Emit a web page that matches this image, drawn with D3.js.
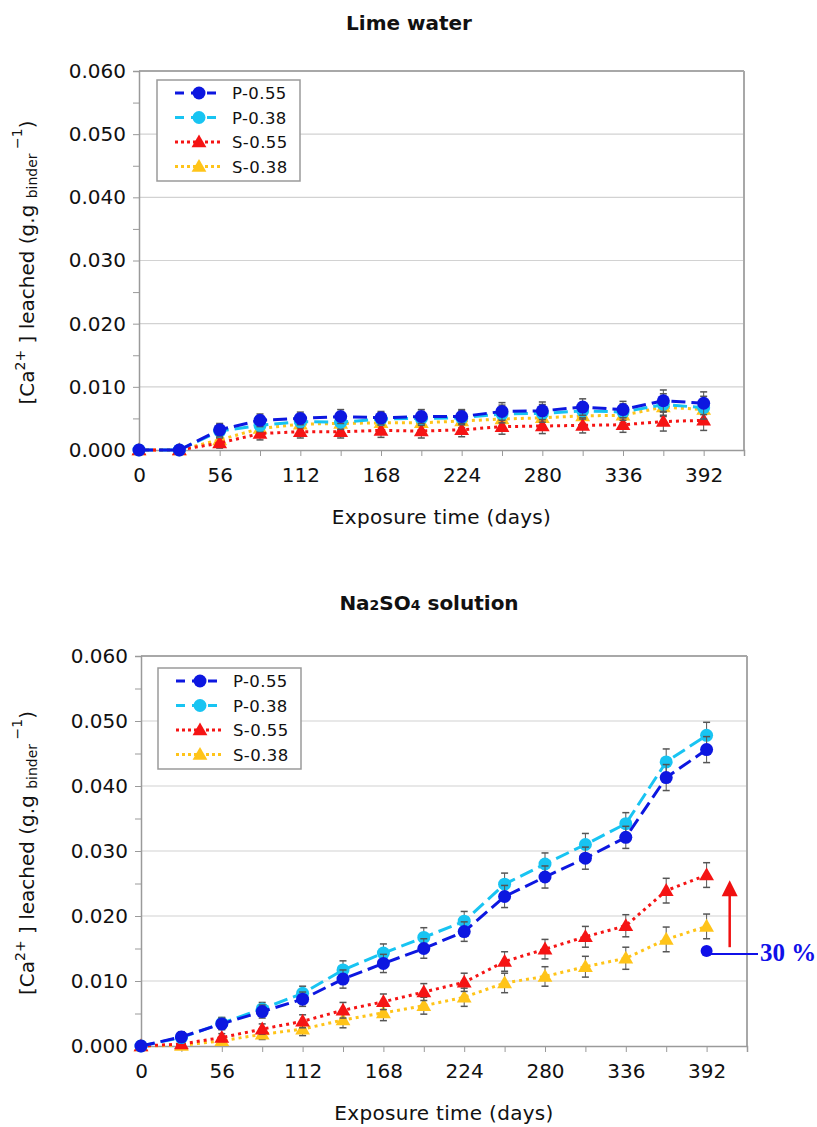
<!DOCTYPE html>
<html>
<head>
<meta charset="utf-8">
<script src="https://cdn.jsdelivr.net/npm/d3@7"></script>
<style>
body { margin: 0; background: #fff; }
text { font-family: "DejaVu Sans", sans-serif; fill: #111; }
</style>
</head>
<body>
<div id="chart"></div>
<script>
// exposure days (one point every 4 weeks)
var days = [0, 28, 56, 84, 112, 140, 168, 196, 224, 252, 280, 308, 336, 364, 392];
var xTickLabels = [0, 56, 112, 168, 224, 280, 336, 392];
var yTicks = [0, 0.01, 0.02, 0.03, 0.04, 0.05, 0.06];
var seriesNames = ["P-0.55", "P-0.38", "S-0.55", "S-0.38"];

// lime water
var limeP55 = [0, 0, 0.0032, 0.0047, 0.0050, 0.0053, 0.0051, 0.0053, 0.0053, 0.0061, 0.0062, 0.0068, 0.0064, 0.0078, 0.0074];
var limeP38 = [0, 0, 0.0030, 0.0039, 0.0045, 0.0044, 0.0049, 0.0050, 0.0051, 0.0057, 0.0058, 0.0062, 0.0060, 0.0072, 0.0067];
var limeS55 = [0, 0, 0.0011, 0.0026, 0.0029, 0.0029, 0.0031, 0.0030, 0.0032, 0.0037, 0.0038, 0.0039, 0.0040, 0.0045, 0.0047];
var limeS38 = [0, 0, 0.0016, 0.0034, 0.0041, 0.0042, 0.0043, 0.0043, 0.0046, 0.0049, 0.0051, 0.0054, 0.0055, 0.0068, 0.0064];
var limeErrP = [0.0007, 0.0006, 0.0010, 0.0010, 0.0010, 0.0011, 0.0010, 0.0011, 0.0011, 0.0014, 0.0014, 0.0013, 0.0013, 0.0017, 0.0018];
var limeErrS = [0.0004, 0.0004, 0.0008, 0.0010, 0.0010, 0.0010, 0.0011, 0.0011, 0.0011, 0.0012, 0.0012, 0.0012, 0.0012, 0.0015, 0.0016];

// Na2SO4 solution
var naP55 = [0, 0.0014, 0.0034, 0.0053, 0.0072, 0.0103, 0.0127, 0.0150, 0.0176, 0.0230, 0.0260, 0.0289, 0.0321, 0.0413, 0.0456];
var naP38 = [0, 0.0013, 0.0035, 0.0057, 0.0081, 0.0117, 0.0143, 0.0167, 0.0192, 0.0249, 0.0280, 0.0310, 0.0342, 0.0437, 0.0478];
var naS55 = [0, 0.0003, 0.0013, 0.0026, 0.0038, 0.0055, 0.0068, 0.0083, 0.0098, 0.0130, 0.0149, 0.0168, 0.0185, 0.0239, 0.0263];
var naS38 = [0, 0.0001, 0.0008, 0.0018, 0.0026, 0.0040, 0.0051, 0.0062, 0.0075, 0.0097, 0.0107, 0.0122, 0.0135, 0.0164, 0.0184];
var naErrP = [0.0007, 0.0008, 0.0009, 0.0010, 0.0011, 0.0014, 0.0014, 0.0015, 0.0015, 0.0017, 0.0017, 0.0017, 0.0017, 0.0020, 0.0020];
var naErrS = [0.0003, 0.0004, 0.0006, 0.0008, 0.0010, 0.0012, 0.0012, 0.0013, 0.0014, 0.0015, 0.0015, 0.0016, 0.0017, 0.0019, 0.0019];

// annotation on the Na2SO4 panel
var noteDot = {day: 392, value: 0.0146};
var noteArrow = {day: 408, from: 0.0152, to: 0.0255};
var noteText = "30 %";

var styles = {
    "P-0.55": {color: "#0d17e0", dash: "14,6", shape: "circle"},
    "P-0.38": {color: "#18c4f2", dash: "14,6", shape: "circle"},
    "S-0.55": {color: "#f51414", dash: "3,4", shape: "triangle"},
    "S-0.38": {color: "#ffc419", dash: "3,4", shape: "triangle"}
};

var svg = d3.select("#chart")
    .append("svg")
    .attr("width", 817)
    .attr("height", 1127);

function drawPanel(p) {
    var x = d3.scaleLinear().domain([0, 420]).range([p.left, p.right]);
    var y = d3.scaleLinear().domain([0, 0.06]).range([p.bottom, p.top]);
    var g = svg.append("g");

    // title
    var title = g.append("text")
        .attr("x", p.titleX)
        .attr("y", p.titleY)
        .attr("text-anchor", "middle")
        .style("font-size", "20px")
        .style("font-weight", "bold");
    p.title.forEach(function(t) {
        title.append("tspan")
            .style("font-size", t.size ? t.size + "px" : null)
            .text(t.s);
    });

    // gridlines
    g.append("g")
        .selectAll("line")
        .data(yTicks.filter(function(d) { return d > 0; }))
        .enter()
        .append("line")
        .attr("x1", p.left).attr("x2", p.right)
        .attr("y1", function(d) { return y(d); })
        .attr("y2", function(d) { return y(d); })
        .attr("stroke", function(d) { return d >= 0.06 ? "#a8a8a8" : "#d2d2d2"; })
        .attr("stroke-width", function(d) { return d >= 0.06 ? 2 : 1.2; });

    // right frame
    g.append("line")
        .attr("x1", p.right).attr("x2", p.right)
        .attr("y1", p.top).attr("y2", p.bottom)
        .attr("stroke", "#a8a8a8").attr("stroke-width", 2);

    // y axis
    var yAxis = g.append("g")
        .attr("transform", "translate(" + p.left + ",0)")
        .call(d3.axisLeft(y).tickValues(d3.range(0, 0.0601, 0.005)).tickSize(6).tickPadding(7)
            .tickFormat(function(d) {
                var r = Math.round(d * 1000);
                return r % 10 === 0 ? d3.format(".3f")(d) : "";
            }));
    yAxis.select(".domain").attr("stroke", "#9a9a9a").attr("stroke-width", 1.5);
    yAxis.selectAll(".tick line").attr("stroke", "#9a9a9a");
    yAxis.selectAll(".tick text").style("font-size", "20px").attr("fill", "#111");

    // x axis
    var xAxis = g.append("g")
        .attr("transform", "translate(0," + p.bottom + ")")
        .call(d3.axisBottom(x).tickValues(d3.range(0, 421, 28)).tickSize(6).tickPadding(12)
            .tickFormat(function(d) { return xTickLabels.indexOf(d) >= 0 ? d : ""; }));
    xAxis.select(".domain").attr("stroke", "#9a9a9a").attr("stroke-width", 1.5);
    xAxis.selectAll(".tick line").attr("stroke", "#9a9a9a");
    xAxis.selectAll(".tick text").style("font-size", "20px").attr("fill", "#111");

    // axis labels
    g.append("text")
        .attr("x", (p.left + p.right) / 2)
        .attr("y", p.bottom + 74)
        .attr("text-anchor", "middle")
        .style("font-size", "20px")
        .style("letter-spacing", "0.3px")
        .text("Exposure time (days)");

    var yl = g.append("text")
        .attr("transform", "translate(34," + ((p.top + p.bottom) / 2 + 2) + ")rotate(-90)")
        .attr("text-anchor", "middle")
        .style("font-size", "20px");
    yl.append("tspan").text("[Ca");
    yl.append("tspan").attr("dy", -9).style("font-size", "14px").text("2+");
    yl.append("tspan").attr("dy", 9).text(" ] leached (g.g ");
    yl.append("tspan").attr("dy", 3).style("font-size", "14px").text("binder");
    yl.append("tspan").attr("dy", -15).style("font-size", "14px").text(" \u22121");
    yl.append("tspan").attr("dy", 12).text(")");

    // series
    var line = d3.line()
        .x(function(d) { return x(d.day); })
        .y(function(d) { return y(d.value); });
    var tri = d3.symbol().type(d3.symbolTriangle).size(95);

    var order = ["S-0.38", "S-0.55", "P-0.38", "P-0.55"];
    order.forEach(function(name) {
        var st = styles[name];
        var pts = days.map(function(dd, i) {
            return {day: dd, value: p.series[name][i], err: p.errors[name][i]};
        });
        var sg = g.append("g");
        sg.append("path")
            .datum(pts)
            .attr("d", line)
            .attr("fill", "none")
            .attr("stroke", st.color)
            .attr("stroke-width", 3)
            .attr("stroke-dasharray", st.dash);

        // error bars
        var eb = sg.selectAll(".eb").data(pts).enter().append("g");
        eb.append("line")
            .attr("x1", function(d) { return x(d.day); })
            .attr("x2", function(d) { return x(d.day); })
            .attr("y1", function(d) { return y(d.value - d.err); })
            .attr("y2", function(d) { return y(d.value + d.err); })
            .attr("stroke", "#555").attr("stroke-width", 1);
        [-1, 1].forEach(function(s) {
            eb.append("line")
                .attr("x1", function(d) { return x(d.day) - 3.5; })
                .attr("x2", function(d) { return x(d.day) + 3.5; })
                .attr("y1", function(d) { return y(d.value + s * d.err); })
                .attr("y2", function(d) { return y(d.value + s * d.err); })
                .attr("stroke", "#555").attr("stroke-width", 1.5);
        });

        if (st.shape === "circle") {
            sg.selectAll(".m").data(pts).enter().append("circle")
                .attr("cx", function(d) { return x(d.day); })
                .attr("cy", function(d) { return y(d.value); })
                .attr("r", 6.5)
                .attr("fill", st.color);
        } else {
            sg.selectAll(".m").data(pts).enter().append("path")
                .attr("d", tri)
                .attr("transform", function(d) { return "translate(" + x(d.day) + "," + (y(d.value) + 1) + ")"; })
                .attr("fill", st.color);
        }
    });

    // legend
    var lg = g.append("g").attr("transform", "translate(" + p.legendX + "," + p.legendY + ")");
    lg.append("rect")
        .attr("width", 143).attr("height", 101)
        .attr("fill", "#fff")
        .attr("stroke", "#9a9a9a").attr("stroke-width", 1.5);
    seriesNames.forEach(function(name, i) {
        var st = styles[name];
        var ry = 13 + i * 24.5;
        lg.append("line")
            .attr("x1", 18).attr("x2", 65)
            .attr("y1", ry).attr("y2", ry)
            .attr("stroke", st.color).attr("stroke-width", 3)
            .attr("stroke-dasharray", st.shape === "circle" ? "9,7" : "3,3");
        if (st.shape === "circle") {
            lg.append("circle").attr("cx", 42).attr("cy", ry).attr("r", 6.5).attr("fill", st.color);
        } else {
            lg.append("path").attr("d", tri)
                .attr("transform", "translate(42," + (ry + 1) + ")")
                .attr("fill", st.color);
        }
        lg.append("text")
            .attr("x", 75).attr("y", ry + 6)
            .style("font-size", "16.5px")
            .style("letter-spacing", "0.4px")
            .text(name);
    });

    return {x: x, y: y, g: g};
}

drawPanel({
    left: 139, right: 744, top: 71, bottom: 450,
    title: [{s: "Lime water"}], titleX: 409, titleY: 30,
    legendX: 157, legendY: 80,
    series: {"P-0.55": limeP55, "P-0.38": limeP38, "S-0.55": limeS55, "S-0.38": limeS38},
    errors: {"P-0.55": limeErrP, "P-0.38": limeErrP, "S-0.55": limeErrS, "S-0.38": limeErrS}
});

var na = drawPanel({
    left: 141, right: 747, top: 656, bottom: 1046,
    title: [{s: "Na"}, {s: "2", size: 14}, {s: "SO"}, {s: "4", size: 14}, {s: " solution"}],
    titleX: 429, titleY: 610,
    legendX: 158, legendY: 668,
    series: {"P-0.55": naP55, "P-0.38": naP38, "S-0.55": naS55, "S-0.38": naS38},
    errors: {"P-0.55": naErrP, "P-0.38": naErrP, "S-0.55": naErrS, "S-0.38": naErrS}
});

// 30 % annotation
var nx = na.x, ny = na.y;
na.g.append("line")
    .attr("x1", nx(noteDot.day)).attr("x2", 758)
    .attr("y1", ny(noteDot.value) + 3).attr("y2", ny(noteDot.value) + 3)
    .attr("stroke", "#1010e8").attr("stroke-width", 2);
na.g.append("circle")
    .attr("cx", nx(noteDot.day)).attr("cy", ny(noteDot.value))
    .attr("r", 6).attr("fill", "#1010e8");
na.g.append("text")
    .attr("x", 760).attr("y", ny(noteDot.value) + 10)
    .style("font-family", "'Liberation Serif', serif")
    .style("font-size", "25px")
    .style("font-weight", "bold")
    .style("fill", "#1010e8")
    .text(noteText);
na.g.append("line")
    .attr("x1", nx(noteArrow.day)).attr("x2", nx(noteArrow.day))
    .attr("y1", ny(noteArrow.from)).attr("y2", ny(noteArrow.to) + 14)
    .attr("stroke", "#f01010").attr("stroke-width", 2.5);
na.g.append("path")
    .attr("d", "M" + nx(noteArrow.day) + "," + ny(noteArrow.to) +
        "l8,16l-16,0z")
    .attr("fill", "#f01010");
</script>
</body>
</html>
